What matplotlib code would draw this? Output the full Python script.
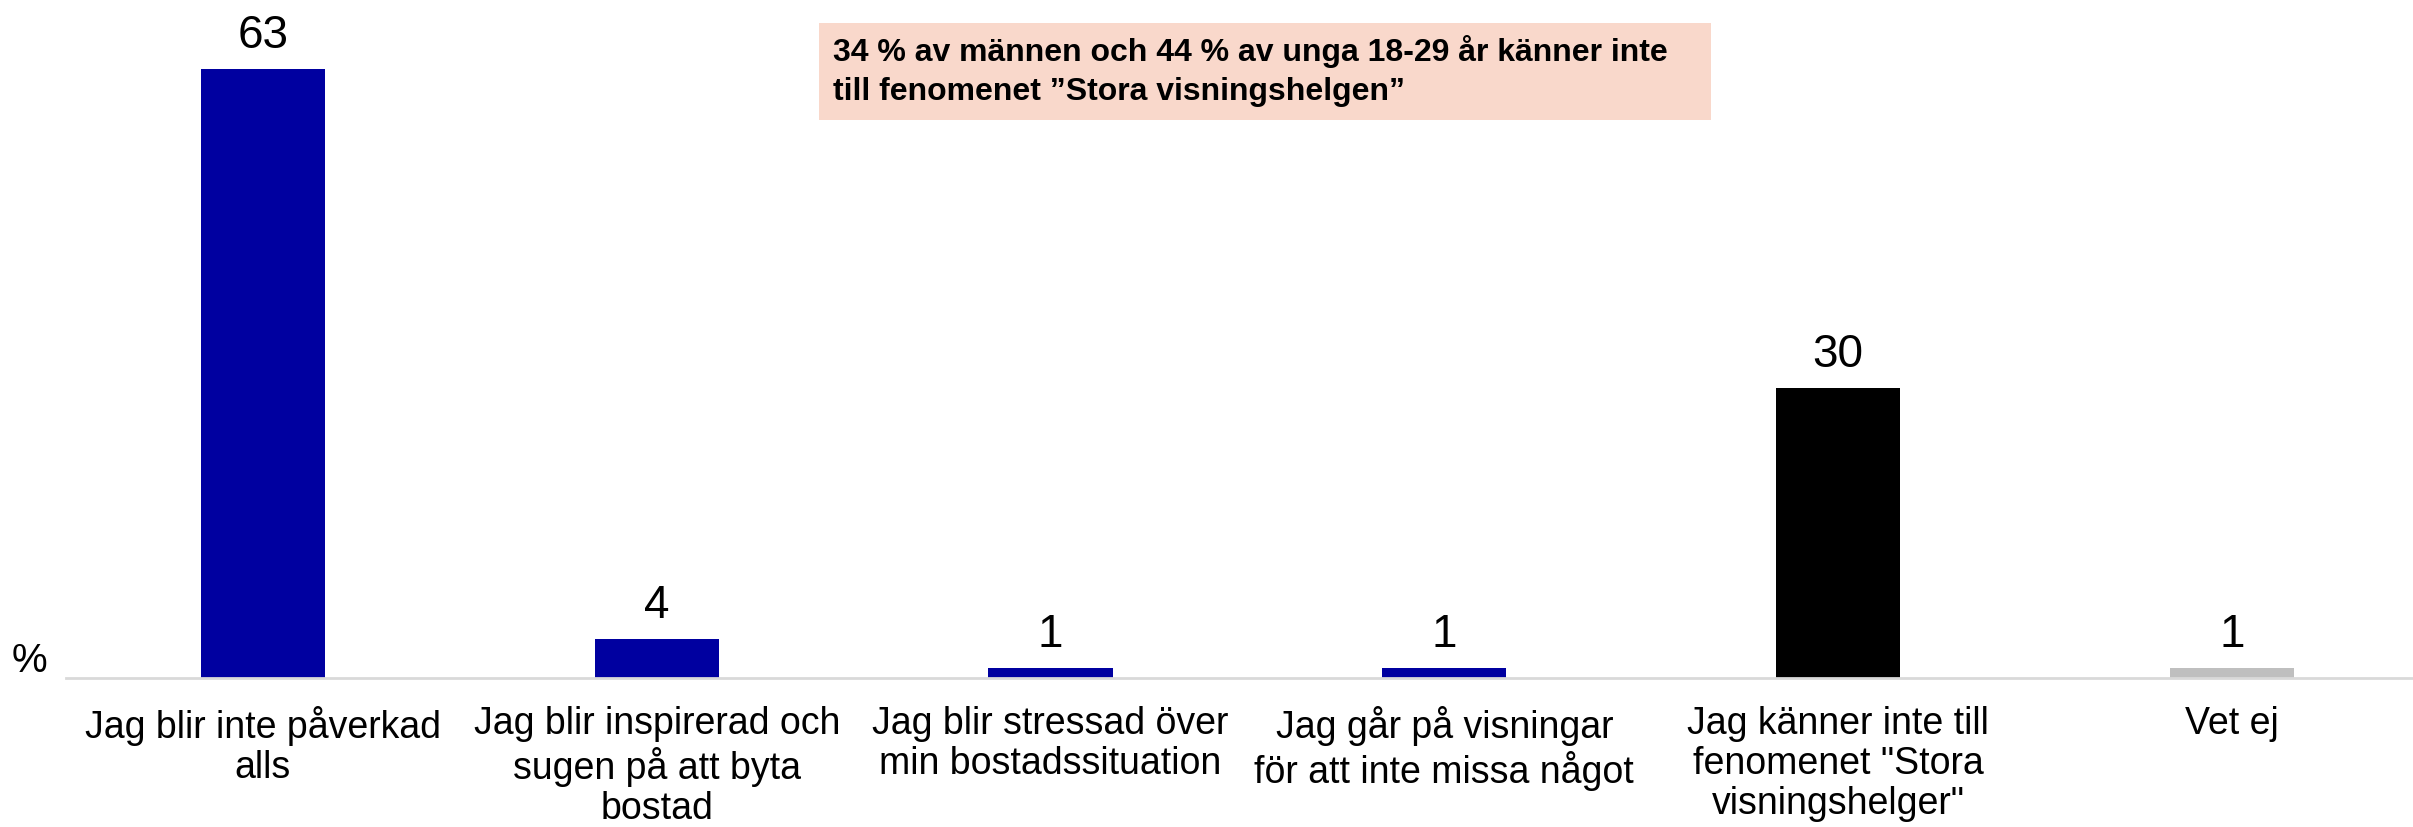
import matplotlib.pyplot as plt
from matplotlib.patches import Rectangle

plt.rcParams['font.family'] = ['Liberation Sans', 'DejaVu Sans']

categories = [
    'Jag blir inte påverkad\nalls',
    'Jag blir inspirerad och\nsugen på att byta\nbostad',
    'Jag blir stressad över\nmin bostadssituation',
    'Jag går på visningar\nför att inte missa något',
    'Jag känner inte till\nfenomenet "Stora\nvisningshelger"',
    'Vet ej',
]
values = [63, 4, 1, 1, 30, 1]
colors = ['#0000A0', '#0000A0', '#0000A0', '#0000A0', '#000000', '#BFBFBF']
note = '34 % av männen och 44 % av unga 18-29 år känner inte\ntill fenomenet ”Stora visningshelgen”'

W, H = 2413, 827
fig = plt.figure(figsize=(W / 100, H / 100), dpi=100)
ax = fig.add_axes([66 / W, (H - 678) / H, 1 - 66 / W, 678 / H])

x = list(range(len(values)))
ax.bar(x, values, width=0.315, color=colors)
ax.set_xlim(-0.5, 5.46)
ax.set_ylim(0, 70.1)

# value labels above bars
for xi, v in zip(x, values):
    ax.annotate(str(v), (xi, v), xytext=(0, 15), textcoords='offset points',
                ha='center', va='baseline', fontsize=33)

ax.set_xticks(x)
ax.set_xticklabels(categories, fontsize=27, linespacing=1.15)
ax.tick_params(axis='x', length=0, pad=20)
ax.set_yticks([])
for s in ['top', 'right', 'left']:
    ax.spines[s].set_visible(False)
ax.spines['bottom'].set_color('#D9D9D9')
ax.spines['bottom'].set_linewidth(2)

fig.text(12 / W, (H - 672) / H, '%', fontsize=29, ha='left', va='baseline')

# annotation box
fig.patches.append(Rectangle((819 / W, (H - 120) / H), (1711 - 819) / W, 97 / H,
                             transform=fig.transFigure, facecolor='#F9D8CB',
                             edgecolor='none', zorder=0))
fig.text(833 / W, (H - 71) / H, note, fontsize=23, fontweight='bold',
         ha='left', va='center', linespacing=1.4)

fig.savefig('out.png', dpi=100)
